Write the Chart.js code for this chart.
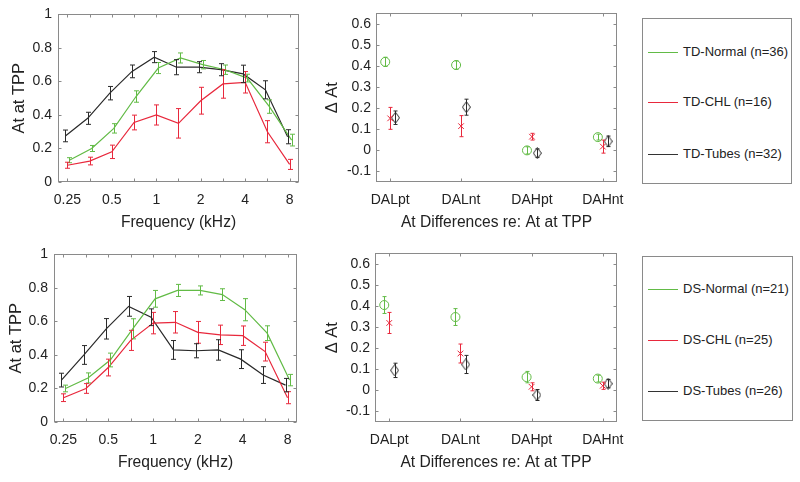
<!DOCTYPE html>
<html>
<head>
<meta charset="utf-8">
<script src="https://cdn.jsdelivr.net/npm/chart.js@4.4.1/dist/chart.umd.min.js"></script>
<style>
body{margin:0;background:#fff;width:800px;height:482px;position:relative;overflow:hidden;font-family:"Liberation Sans",Arial,sans-serif;color:#222}
.panel{position:absolute}
.legend{position:absolute;border:1px solid #8a8a8a;box-sizing:border-box}
.legend .row{position:absolute;left:5px;height:0}
.legend .line{position:absolute;left:0;top:0;width:30px;border-top:1px solid}
.legend .txt{position:absolute;left:35px;top:-8px;font-size:13px;white-space:nowrap;line-height:16px}
</style>
</head>
<body>
<div class="panel" style="left:0;top:0;width:320px;height:240px"><canvas id="tdFreq"></canvas></div>
<div class="panel" style="left:320px;top:0;width:318px;height:240px"><canvas id="tdDiff"></canvas></div>
<div class="panel" style="left:0;top:240px;width:320px;height:242px"><canvas id="dsFreq"></canvas></div>
<div class="panel" style="left:320px;top:240px;width:318px;height:242px"><canvas id="dsDiff"></canvas></div>

<div class="legend" style="left:642px;top:18px;width:150px;height:166px">
  <div class="row" style="top:33px"><div class="line" style="border-color:#62bb46"></div><div class="txt">TD-Normal (n=36)</div></div>
  <div class="row" style="top:83px"><div class="line" style="border-color:#e8283c"></div><div class="txt">TD-CHL (n=16)</div></div>
  <div class="row" style="top:135px"><div class="line" style="border-color:#333"></div><div class="txt">TD-Tubes (n=32)</div></div>
</div>
<div class="legend" style="left:642px;top:256px;width:151px;height:165px">
  <div class="row" style="top:32px"><div class="line" style="border-color:#62bb46"></div><div class="txt">DS-Normal (n=21)</div></div>
  <div class="row" style="top:83px"><div class="line" style="border-color:#e8283c"></div><div class="txt">DS-CHL (n=25)</div></div>
  <div class="row" style="top:134px"><div class="line" style="border-color:#333"></div><div class="txt">DS-Tubes (n=26)</div></div>
</div>

<script>
// frequencies (kHz), half-octave steps
var freqs = [0.25, 0.354, 0.5, 0.707, 1, 1.414, 2, 2.828, 4, 5.657, 8];
var freqLabels = ['0.25', '', '0.5', '', '1', '', '2', '', '4', '', '8'];
var yTicksFreq = [0, 0.2, 0.4, 0.6, 0.8, 1];

// TD: absorbance at TPP, mean and error
var tdNormal    = [0.13, 0.20, 0.32, 0.51, 0.68, 0.74, 0.70, 0.67, 0.62, 0.45, 0.25];
var tdNormalErr = [0.015, 0.018, 0.028, 0.034, 0.033, 0.030, 0.025, 0.028, 0.023, 0.040, 0.035];
var tdChl       = [0.10, 0.125, 0.18, 0.355, 0.40, 0.35, 0.485, 0.585, 0.595, 0.30, 0.105];
var tdChlErr    = [0.018, 0.023, 0.040, 0.044, 0.060, 0.088, 0.080, 0.085, 0.064, 0.066, 0.030];
var tdTubes     = [0.275, 0.38, 0.53, 0.66, 0.745, 0.685, 0.685, 0.67, 0.645, 0.55, 0.27];
var tdTubesErr  = [0.035, 0.036, 0.040, 0.038, 0.033, 0.045, 0.033, 0.036, 0.052, 0.054, 0.042];

// DS
var dsNormal    = [0.20, 0.263, 0.37, 0.556, 0.735, 0.785, 0.785, 0.76, 0.67, 0.53, 0.25];
var dsNormalErr = [0.020, 0.030, 0.041, 0.060, 0.050, 0.036, 0.027, 0.035, 0.066, 0.044, 0.034];
var dsChl       = [0.145, 0.20, 0.325, 0.487, 0.59, 0.595, 0.535, 0.52, 0.515, 0.42, 0.145];
var dsChlErr    = [0.023, 0.029, 0.050, 0.060, 0.064, 0.064, 0.065, 0.058, 0.058, 0.056, 0.036];
var dsTubes     = [0.25, 0.40, 0.556, 0.69, 0.625, 0.43, 0.425, 0.43, 0.375, 0.28, 0.22];
var dsTubesErr  = [0.041, 0.056, 0.061, 0.059, 0.050, 0.056, 0.042, 0.061, 0.056, 0.050, 0.040];

// differences re: At at TPP
var diffCats = ['DALpt', 'DALnt', 'DAHpt', 'DAHnt'];
var yTicksDiff = [-0.1, 0, 0.1, 0.2, 0.3, 0.4, 0.5, 0.6];
var tdNormalDiff    = [0.42, 0.405, 0.0, 0.063];
var tdNormalDiffErr = [0.022, 0.020, 0.017, 0.014];
var tdChlDiff       = [0.152, 0.115, 0.065, 0.018];
var tdChlDiffErr    = [0.052, 0.050, 0.016, 0.031];
var tdTubesDiff     = [0.155, 0.205, -0.013, 0.043];
var tdTubesDiffErr  = [0.032, 0.038, 0.020, 0.025];
var dsNormalDiff    = [0.405, 0.348, 0.063, 0.056];
var dsNormalDiffErr = [0.040, 0.040, 0.027, 0.016];
var dsChlDiff       = [0.32, 0.175, 0.017, 0.022];
var dsChlDiffErr    = [0.050, 0.045, 0.019, 0.017];
var dsTubesDiff     = [0.095, 0.123, -0.022, 0.032];
var dsTubesDiffErr  = [0.034, 0.043, 0.026, 0.020];

var GREEN = '#62bb46', RED = '#e8283c', BLACK = '#2a2a2a';
var TEXT = '#222', AXIS = '#8a8a8a';
var FONT = '"Liberation Sans", Arial, sans-serif';

// diamond marker
var diamond = document.createElement('canvas');
diamond.width = 9; diamond.height = 12;
(function(){
  var c = diamond.getContext('2d');
  c.strokeStyle = BLACK; c.lineWidth = 1;
  c.beginPath();
  c.moveTo(4.5, 0.5); c.lineTo(8.5, 6); c.lineTo(4.5, 11.5); c.lineTo(0.5, 6); c.closePath();
  c.stroke();
})();

var errorBars = {
  id: 'errorBars',
  afterDatasetsDraw: function(chart){
    var ctx = chart.ctx;
    var cap = chart.options.plugins.errorBars.cap;
    chart.data.datasets.forEach(function(ds, i){
      if(!ds.errors){return}
      var meta = chart.getDatasetMeta(i);
      var ys = chart.scales[meta.yAxisID];
      ctx.save();
      ctx.strokeStyle = ds.borderColor;
      ctx.lineWidth = 1;
      meta.data.forEach(function(pt, j){
        var v = ds.data[j].y, e = ds.errors[j];
        var x = Math.round(pt.x) + 0.5;
        var y1 = ys.getPixelForValue(v - e), y2 = ys.getPixelForValue(v + e);
        ctx.beginPath();
        ctx.moveTo(x, y1); ctx.lineTo(x, y2);
        ctx.moveTo(x - cap, y1); ctx.lineTo(x + cap, y1);
        ctx.moveTo(x - cap, y2); ctx.lineTo(x + cap, y2);
        ctx.stroke();
      });
      ctx.restore();
    });
  }
};

var boxAxes = {
  id: 'boxAxes',
  afterDraw: function(chart){
    var a = chart.chartArea, ctx = chart.ctx, tl = 3;
    ctx.save();
    ctx.strokeStyle = AXIS; ctx.lineWidth = 1;
    var l = Math.round(a.left) + 0.5, r = Math.round(a.right) - 0.5;
    var t = Math.round(a.top) + 0.5, b = Math.round(a.bottom) - 0.5;
    ctx.strokeRect(l, t, r - l, b - t);
    ctx.beginPath();
    var xs = chart.scales.x, ys = chart.scales.y;
    xs.ticks.forEach(function(tk, k){
      var px = Math.round(xs.getPixelForTick(k)) + 0.5;
      ctx.moveTo(px, b); ctx.lineTo(px, b - tl);
      ctx.moveTo(px, t); ctx.lineTo(px, t + tl);
    });
    ys.ticks.forEach(function(tk, k){
      var py = Math.round(ys.getPixelForTick(k)) + 0.5;
      ctx.moveTo(l, py); ctx.lineTo(l + tl, py);
      ctx.moveTo(r, py); ctx.lineTo(r - tl, py);
    });
    ctx.stroke();
    ctx.restore();
  }
};

function points(xs, ys, shift){
  return ys.map(function(v, i){ return {x: xs[i] * shift, y: v}; });
}
function catPoints(ys, offset){
  return ys.map(function(v, i){ return {x: i + 1 + offset, y: v}; });
}

function lineSet(label, data, errs, color){
  return {label: label, data: data, errors: errs, borderColor: color, backgroundColor: color,
    borderWidth: 1.2, pointRadius: 0, tension: 0, fill: false};
}
function markSet(label, data, errs, color, style, radius){
  return {label: label, data: data, errors: errs, borderColor: color, backgroundColor: 'rgba(0,0,0,0)',
    showLine: false, pointStyle: style, pointRadius: radius, borderWidth: 1};
}

function makeChart(id, g){
  new Chart(document.getElementById(id), {
    type: 'line',
    data: {datasets: g.datasets},
    plugins: [errorBars, boxAxes],
    options: {
      responsive: true,
      maintainAspectRatio: false,
      animation: false,
      layout: {padding: {top: g.top, right: g.right, left: 0, bottom: 0}},
      plugins: {legend: {display: false}, tooltip: {enabled: false}, errorBars: {cap: g.cap}},
      scales: {
        x: g.x,
        y: {
          type: 'linear', min: g.ymin, max: g.ymax,
          afterBuildTicks: function(s){ s.ticks = g.yTicks.map(function(v){ return {value: v}; }); },
          afterFit: function(s){ s.width = g.yWidth; },
          grid: {display: false, drawTicks: false},
          border: {display: false},
          ticks: {padding: g.yPad, color: TEXT, font: {family: FONT, size: 14},
            callback: function(v){ return String(Math.round(v * 10) / 10); }},
          title: {display: true, text: g.yTitle, color: TEXT, font: {family: FONT, size: 16.5},
            padding: {top: g.yTitlePad, bottom: 0}}
        }
      }
    }
  });
}

function freqAxis(xHeight, titlePad){
  return {
    type: 'logarithmic', min: 0.216, max: 9.26,
    afterBuildTicks: function(s){ s.ticks = freqs.map(function(v){ return {value: v}; }); },
    afterFit: function(s){ s.height = xHeight; },
    grid: {display: false, drawTicks: false},
    border: {display: false},
    ticks: {padding: 10, autoSkip: false, maxRotation: 0, color: TEXT, font: {family: FONT, size: 14},
      callback: function(v, i){ return freqLabels[i]; }},
    title: {display: true, text: 'Frequency (kHz)', color: TEXT, font: {family: FONT, size: 15.6},
      padding: {top: 0, bottom: titlePad}}
  };
}
function diffAxis(xHeight, titlePad){
  return {
    type: 'linear', min: 0.8, max: 4.2,
    afterBuildTicks: function(s){ s.ticks = diffCats.map(function(c, i){ return {value: i + 1}; }); },
    afterFit: function(s){ s.height = xHeight; },
    grid: {display: false, drawTicks: false},
    border: {display: false},
    ticks: {padding: 10, autoSkip: false, maxRotation: 0, color: TEXT, font: {family: FONT, size: 14},
      callback: function(v, i){ return diffCats[i]; }},
    title: {display: true, text: 'At Differences re: At at TPP', color: TEXT, font: {family: FONT, size: 15.6},
      padding: {top: 0, bottom: titlePad}}
  };
}

var shiftG = Math.pow(2, 0.045), shiftR = 1, shiftK = Math.pow(2, -0.045);

makeChart('tdFreq', {
  top: 13, right: 21, yWidth: 58, yPad: 6, yTitlePad: 10, cap: 2.5,
  ymin: 0, ymax: 1, yTicks: yTicksFreq, yTitle: 'At at TPP',
  x: freqAxis(58, 7.6),
  datasets: [
    lineSet('TD-Normal (n=36)', points(freqs, tdNormal, shiftG), tdNormalErr, GREEN),
    lineSet('TD-CHL (n=16)', points(freqs, tdChl, shiftR), tdChlErr, RED),
    lineSet('TD-Tubes (n=32)', points(freqs, tdTubes, shiftK), tdTubesErr, BLACK)
  ]
});

makeChart('dsFreq', {
  top: 12, right: 23, yWidth: 54, yPad: 6, yTitlePad: 7, cap: 2.5,
  ymin: 0, ymax: 1, yTicks: yTicksFreq, yTitle: 'At at TPP',
  x: freqAxis(60, 9.6),
  datasets: [
    lineSet('DS-Normal (n=21)', points(freqs, dsNormal, shiftG), dsNormalErr, GREEN),
    lineSet('DS-CHL (n=25)', points(freqs, dsChl, shiftR), dsChlErr, RED),
    lineSet('DS-Tubes (n=26)', points(freqs, dsTubes, shiftK), dsTubesErr, BLACK)
  ]
});

makeChart('tdDiff', {
  top: 13, right: 21, yWidth: 56, yPad: 5, yTitlePad: 3, cap: 2,
  ymin: -0.15, ymax: 0.65, yTicks: yTicksDiff, yTitle: '\u0394 At',
  x: diffAxis(58, 7.6),
  datasets: [
    markSet('TD-Normal (n=36)', catPoints(tdNormalDiff, -0.07), tdNormalDiffErr, GREEN, 'circle', 4.5),
    markSet('TD-CHL (n=16)', catPoints(tdChlDiff, 0), tdChlDiffErr, RED, 'crossRot', 4),
    markSet('TD-Tubes (n=32)', catPoints(tdTubesDiff, 0.075), tdTubesDiffErr, BLACK, diamond, 5)
  ]
});

makeChart('dsDiff', {
  top: 10, right: 21, yWidth: 55, yPad: 5, yTitlePad: 3, cap: 2,
  ymin: -0.15, ymax: 0.65, yTicks: yTicksDiff, yTitle: '\u0394 At',
  x: diffAxis(60, 9.6),
  datasets: [
    markSet('DS-Normal (n=21)', catPoints(dsNormalDiff, -0.07), dsNormalDiffErr, GREEN, 'circle', 4.5),
    markSet('DS-CHL (n=25)', catPoints(dsChlDiff, 0), dsChlDiffErr, RED, 'crossRot', 4),
    markSet('DS-Tubes (n=26)', catPoints(dsTubesDiff, 0.075), dsTubesDiffErr, BLACK, diamond, 5)
  ]
});
</script>
</body>
</html>
